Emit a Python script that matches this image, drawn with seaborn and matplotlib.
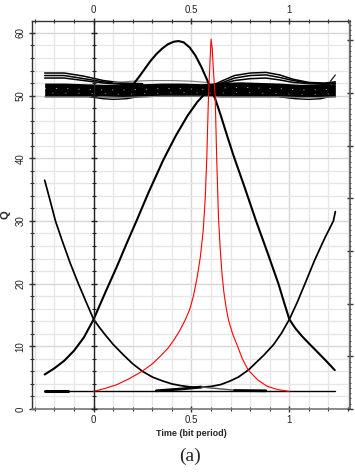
import matplotlib
matplotlib.use("Agg")
import matplotlib.pyplot as plt
import seaborn as sns
import numpy as np
from matplotlib.ticker import MultipleLocator, NullFormatter

# ---------------- data ----------------
# curve falling from upper-left, minimum near 0.53, rising to the right
c1_x = [-0.25, -0.22, -0.195, -0.16, -0.12, -0.078, -0.04, 0.0, 0.03, 0.06, 0.1, 0.15, 0.2, 0.25,
        0.3, 0.35, 0.4, 0.45, 0.5, 0.55, 0.6, 0.65, 0.7, 0.74, 0.79, 0.83, 0.87, 0.92, 0.96, 1.0,
        1.04, 1.08, 1.13, 1.18, 1.225, 1.235]
c1_y = [36.5, 33.0, 30.0, 26.8, 23.3, 20.0, 17.2, 14.3, 13.0, 11.8, 10.3, 8.7, 7.2, 6.0,
        5.1, 4.5, 4.0, 3.7, 3.5, 3.45, 3.6, 3.9, 4.5, 5.1, 6.2, 7.4, 8.6, 10.3, 12.1, 14.3,
        17.0, 20.0, 23.8, 27.2, 30.0, 31.5]

# curve rising from lower-left into the band
c2_x = [-0.25, -0.2, -0.15, -0.1, -0.05, 0.0, 0.06, 0.12, 0.17, 0.219, 0.28, 0.357, 0.42, 0.48,
        0.53, 0.56, 0.6, 0.63]
c2_y = [5.5, 6.5, 7.7, 9.3, 11.4, 14.3, 18.6, 22.8, 26.5, 30.0, 34.5, 39.8, 43.6, 46.8,
        49.0, 50.0, 51.0, 51.5]

# curve leaving the band, peaking near 0.43 and falling to the right
c3_x = [0.2, 0.23, 0.26, 0.29, 0.32, 0.35, 0.38, 0.41, 0.434, 0.46, 0.49, 0.52, 0.55, 0.58, 0.6,
        0.62, 0.65, 0.68, 0.714, 0.77, 0.83, 0.89, 0.944, 0.975, 1.0, 1.03, 1.065, 1.105, 1.14,
        1.19, 1.232]
c3_y = [51.7, 52.9, 54.2, 55.5, 56.6, 57.5, 58.2, 58.6, 58.7, 58.5, 57.7, 56.4, 54.6, 52.5, 51.0,
        49.6, 46.8, 43.8, 40.5, 35.5, 30.0, 24.8, 20.0, 16.8, 14.3, 12.9, 11.6, 10.3, 9.2,
        7.6, 6.2]

# red curve
red_x = [0.0, 0.06, 0.12, 0.18, 0.247, 0.3, 0.34, 0.38, 0.41, 0.44, 0.468, 0.49, 0.51, 0.53,
         0.545, 0.56, 0.57, 0.578, 0.587, 0.594, 0.6, 0.606, 0.614, 0.621, 0.629, 0.638, 0.647,
         0.656, 0.666, 0.677, 0.689, 0.71, 0.733, 0.76, 0.79, 0.84, 0.885, 0.94, 1.0]
red_y = [2.8, 3.3, 3.9, 4.8, 6.0, 7.2, 8.4, 9.7, 11.0, 12.5, 14.2, 15.8, 18.0, 21.2,
         24.2, 28.5, 33.5, 39.8, 50.0, 55.0, 59.0, 57.5, 53.0, 50.0, 39.8, 30.5, 25.5,
         21.5, 18.5, 16.2, 14.2, 12.0, 10.2, 8.0, 6.2, 4.6, 3.65, 3.1, 2.8]

# bottom threshold line and its thick pieces
base_x = [-0.25, 1.235]
base_y = [2.85, 2.85]
seg1_x = [-0.25, -0.13]
seg1_y = [2.9, 2.9]
seg2_x = [0.32, 0.45, 0.55]
seg2_y = [2.9, 3.2, 3.5]
seg3_x = [0.55, 0.65, 0.72]
seg3_y = [3.5, 3.2, 3.0]
seg4_x = [0.72, 0.88]
seg4_y = [2.95, 2.9]

# dense band of traces around 50-52
band_x = [-0.25, -0.15, -0.05, 0.05, 0.15, 0.25, 0.35, 0.45, 0.55, 0.65, 0.75, 0.85, 0.95, 1.05, 1.15, 1.235]
band_lo = [49.8, 49.8, 49.8, 49.8, 49.7, 49.8, 49.9, 49.9, 49.9, 49.8, 49.8, 49.8, 49.8, 49.7, 49.7, 49.8]
band_hi = [52.0, 52.0, 51.9, 51.8, 51.8, 51.9, 52.0, 52.0, 51.9, 52.1, 52.2, 52.1, 52.0, 51.8, 51.8, 51.9]
# faint light streaks inside the band
streak1_y = [51.1, 51.1, 51.0, 50.9, 50.9, 51.0, 51.1, 51.1, 51.0, 51.2, 51.3, 51.2, 51.1, 50.9, 50.9, 51.0]
streak2_y = [50.4, 50.4, 50.4, 50.3, 50.2, 50.3, 50.4, 50.5, 50.4, 50.4, 50.5, 50.4, 50.3, 50.2, 50.2, 50.3]

ul_x = [-0.25, -0.15, -0.05, 0.05, 0.15, 0.25]
ul_1 = [53.6, 53.6, 53.1, 52.4, 52.0, 51.9]
ul_2 = [53.2, 53.2, 52.7, 52.2, 51.9, 51.8]
ul_3 = [52.8, 52.8, 52.4, 52.0, 51.8, 51.7]

ur_x = [0.6, 0.66, 0.72, 0.8, 0.88, 0.95, 1.02, 1.1, 1.18, 1.235]
ur_1 = [51.5, 52.4, 53.2, 53.6, 53.7, 53.3, 52.6, 52.1, 52.0, 52.2]
ur_2 = [51.5, 52.1, 52.8, 53.2, 53.3, 52.9, 52.4, 52.0, 51.9, 52.0]
ur_3 = [51.5, 51.9, 52.4, 52.7, 52.8, 52.5, 52.1, 51.9, 51.8, 51.9]

mid_x = [0.1, 0.2, 0.3, 0.4, 0.5, 0.58]
mid_y = [52.1, 52.3, 52.4, 52.4, 52.3, 52.1]

lo1_x = [-0.02, 0.05, 0.1, 0.17, 0.22]
lo1_y = [49.8, 49.5, 49.4, 49.5, 49.8]
lo2_x = [0.95, 1.03, 1.1, 1.16, 1.2]
lo2_y = [49.8, 49.5, 49.4, 49.5, 49.8]

end_x = [1.21, 1.235]
end_y = [52.3, 53.3]

x_ticks = [0, 0.5, 1]
x_ticklabels = ["0", "0.5", "1"]
y_ticks = [0, 10, 20, 30, 40, 50, 60]

# ---------------- figure ----------------
sns.set_theme(style="white")
plt.rcParams["font.family"] = ["Liberation Sans", "DejaVu Sans"]

fig = plt.figure(figsize=(3.55, 4.72), dpi=100)
ax = fig.add_axes([0.090, 0.1335, 0.896, 0.822])
ax.set_xlim(-0.315, 1.31)
ax.set_ylim(0, 61.9)

# grid
ax.xaxis.set_minor_locator(MultipleLocator(0.1))
ax.yaxis.set_minor_locator(MultipleLocator(2))
ax.set_xticks(x_ticks)
ax.set_yticks(y_ticks)
ax.grid(which="minor", color="#e6e6e6", lw=0.9)
ax.grid(which="major", color="#d6d6d6", lw=1.0)
ax.set_axisbelow(True)

def line(x, y, color="black", lw=1.0, z=3, ls="-"):
    sns.lineplot(x=x, y=y, ax=ax, color=color, lw=lw, sort=False, estimator=None, zorder=z,
                 linestyle=ls)

# band
ax.fill_between(band_x, band_lo, band_hi, color="black", lw=0, zorder=3)
line(band_x, streak1_y, color="#f0f0f0", lw=0.45, ls=(0, (2, 16)))
line(band_x, streak2_y, color="#bbbbbb", lw=0.45, ls=(9, (2, 19)))
for yy in (ul_1, ul_2, ul_3):
    line(ul_x, yy, lw=1.1)
for yy in (ur_1, ur_2, ur_3):
    line(ur_x, yy, lw=1.1)
line(mid_x, mid_y, color="#777777", lw=0.8)
line(lo1_x, lo1_y, lw=1.0)
line(lo2_x, lo2_y, lw=1.0)
line(end_x, end_y, lw=0.8)
line(band_x, band_lo, color="#888888", lw=0.8)

# main curves
line(c1_x, c1_y, lw=1.25)
line(c2_x, c2_y, lw=1.5)
line(c3_x, c3_y, lw=1.5)

# baseline
line(base_x, base_y, lw=1.0)
line(seg1_x, seg1_y, lw=2.2)
line(seg2_x, seg2_y, lw=2.0)
line(seg3_x, seg3_y, color="#555555", lw=1.0)
line(seg4_x, seg4_y, lw=2.0)

# red
line(red_x, red_y, color="red", lw=0.8, z=4)

# spines / ticks
for s in ("left", "top"):
    ax.spines[s].set_color("#333333")
    ax.spines[s].set_linewidth(1.0)
ax.spines["right"].set_visible(False)
ax.spines["bottom"].set_color("#777777")
ax.spines["bottom"].set_linestyle((0, (1, 1)))
ax.spines["bottom"].set_linewidth(1.2)

ax.tick_params(axis="x", which="both", top=True, bottom=True, labeltop=True, labelbottom=True,
               direction="inout", colors="#333333", labelcolor="#222222", labelsize=7, pad=2)
ax.tick_params(axis="x", which="major", length=5, width=1)
ax.tick_params(axis="x", which="minor", length=3, width=0.8)
ax.set_xticklabels(x_ticklabels)
ax.tick_params(axis="y", which="both", left=True, direction="inout", colors="#333333",
               labelcolor="#222222", labelsize=7, pad=2)
ax.tick_params(axis="y", which="major", length=5, width=1)
ax.tick_params(axis="y", which="minor", length=3, width=0.8)
for lab in ax.get_yticklabels():
    lab.set_rotation(90)
    lab.set_va("center")

ax.set_xlabel("Time (bit period)", fontsize=6.5, fontweight="bold", labelpad=3)
ax.set_ylabel("Q", fontsize=8, fontweight="bold", labelpad=4)

# vertical axis line at x = 0 with ticks
ax0 = ax.twinx()
ax0.set_ylim(ax.get_ylim())
for s in ("right", "top", "bottom"):
    ax0.spines[s].set_visible(False)
ax0.spines["left"].set_position(("data", 0))
ax0.spines["left"].set_color("#222222")
ax0.spines["left"].set_linewidth(1.0)
ax0.yaxis.set_ticks_position("left")
ax0.yaxis.set_major_locator(MultipleLocator(10))
ax0.yaxis.set_minor_locator(MultipleLocator(2))
ax0.yaxis.set_major_formatter(NullFormatter())
ax0.tick_params(axis="y", which="both", direction="inout", colors="#222222")
ax0.tick_params(axis="y", which="major", length=5, width=1)
ax0.tick_params(axis="y", which="minor", length=3, width=0.8)
ax0.grid(False)

# right dotted spine with dense ticks
ax1 = ax.twinx()
ax1.set_ylim(0, 61.9)
for s in ("left", "top", "bottom"):
    ax1.spines[s].set_visible(False)
ax1.spines["right"].set_color("#555555")
ax1.spines["right"].set_linestyle((0, (1, 1)))
ax1.spines["right"].set_linewidth(1.2)
ax1.yaxis.set_major_locator(MultipleLocator(8.4))
ax1.yaxis.set_minor_locator(MultipleLocator(0.84))
ax1.yaxis.set_major_formatter(NullFormatter())
ax1.tick_params(axis="y", which="both", direction="inout", colors="#333333")
ax1.tick_params(axis="y", which="major", length=5, width=1)
ax1.tick_params(axis="y", which="minor", length=2, width=0.6)
ax1.grid(False)

fig.text(0.535, 0.034, "(a)", ha="center", va="center", fontsize=14,
         family=["Liberation Serif", "DejaVu Serif"])

fig.savefig("out.png", dpi=100)
